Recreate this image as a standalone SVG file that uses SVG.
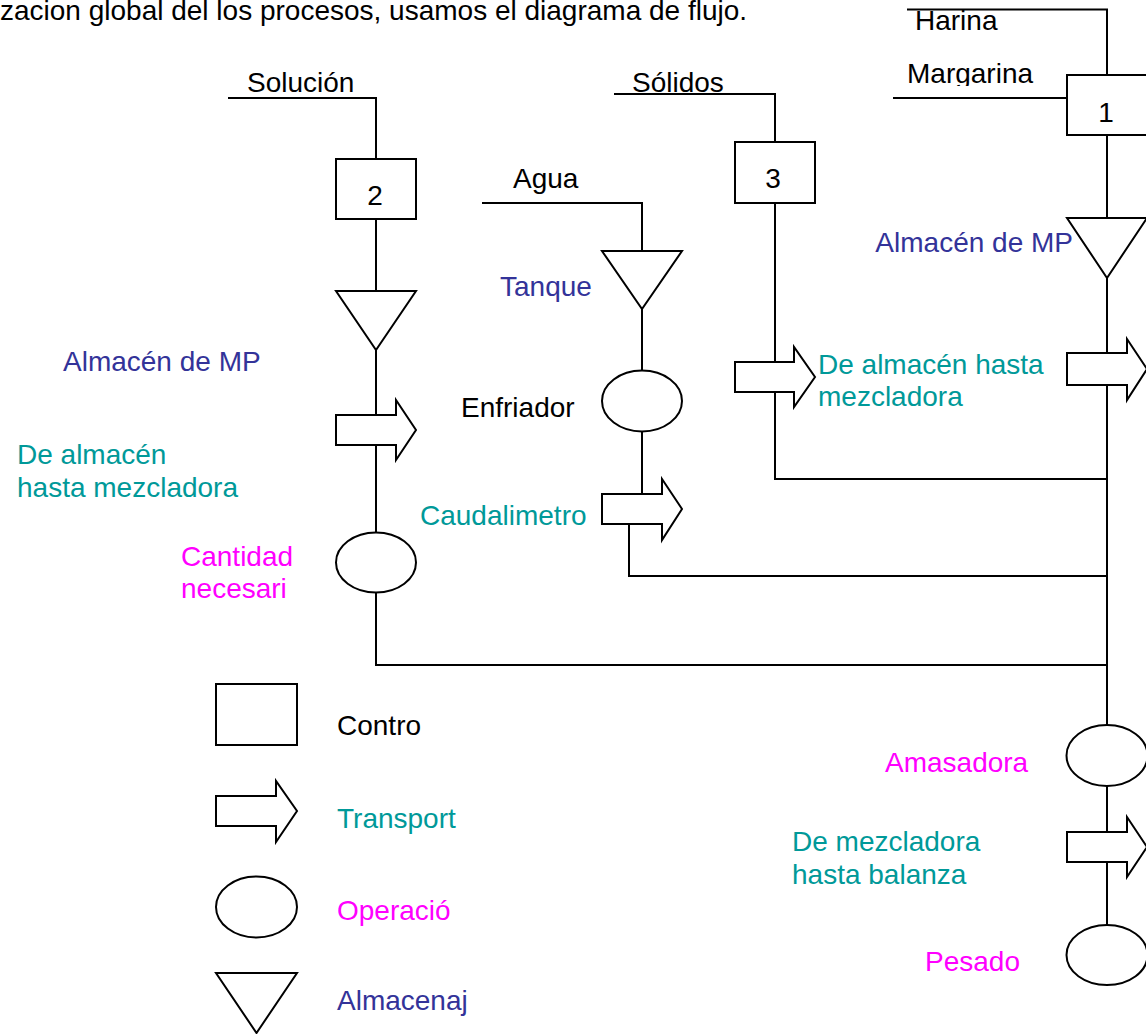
<svg xmlns="http://www.w3.org/2000/svg" width="1146" height="1034" viewBox="0 0 1146 1034">
<style>
text{font-family:"Liberation Sans",Arial,sans-serif;font-size:28px;fill:#000}
.shape{fill:#fff;stroke:#000;stroke-width:2}
.conn{fill:none;stroke:#000;stroke-width:2}
.teal{fill:#009999}
.mag{fill:#ff00ff}
.blue{fill:#333399}
</style>
<defs>
<clipPath id="clipMarg"><rect x="880" y="40" width="200" height="46"/></clipPath>
</defs>
<rect width="1146" height="1034" fill="#fff"/>
<text x="0" y="20">zacion global del los procesos, usamos el diagrama de flujo.</text>
<g id="connectors">
<path class="conn" d="M907,9.5 H1107 V75"/>
<path class="conn" d="M893,98 H1067"/>
<path class="conn" d="M1107,135 V925"/>
<path class="conn" d="M228,98 H376 V159 M376,219 V291 M376,350 V415 M376,445 V533 M376,592 V665 H1107"/>
<path class="conn" d="M614,94 H775 V142 M775,203 V362 M775,392 V479 H1107"/>
<path class="conn" d="M482,203 H642 V251 M642,309 V371 M642,432 V494 M629,524 V576 H1107"/>
</g>
<g id="in-harina"><text x="915" y="30">Harina</text></g>
<g id="in-margarina"><text x="907" y="83" clip-path="url(#clipMarg)">Margarina</text></g>
<g id="in-solucion"><text x="247" y="92">Solución</text></g>
<g id="in-solidos"><text x="632" y="92">Sólidos</text></g>
<g id="in-agua"><text x="513" y="188">Agua</text></g>
<g id="control1"><rect class="shape" x="1067" y="75" width="80" height="60"/><text x="1106" y="122" text-anchor="middle">1</text></g>
<g id="control2"><rect class="shape" x="336" y="159" width="80" height="60"/><text x="375" y="205" text-anchor="middle">2</text></g>
<g id="control3"><rect class="shape" x="735" y="142" width="80" height="61"/><text x="773" y="188" text-anchor="middle">3</text></g>
<g id="almacen-right"><polygon class="shape" points="1067,218 1147,218 1107,278"/><text class="blue" x="1073" y="252" text-anchor="end">Almacén de MP</text></g>
<g id="almacen-left"><polygon class="shape" points="336,291 416,291 376,350"/><text class="blue" x="63" y="371">Almacén de MP</text></g>
<g id="tanque"><polygon class="shape" points="602,251 682,251 642,309"/><text class="blue" x="500" y="296">Tanque</text></g>
<g id="enfriador"><ellipse class="shape" cx="642" cy="401" rx="40" ry="30.5"/><text x="461" y="417">Enfriador</text></g>
<g id="transporte-right"><polygon class="shape" points="1067,353 1127,353 1127,339 1147,369 1127,400 1127,385 1067,385"/></g>
<g id="transporte-mid"><polygon class="shape" points="735,362 794,362 794,347 815,377 794,407 794,392 735,392"/><text class="teal" x="818" y="374">De almacén hasta</text><text class="teal" x="818" y="406">mezcladora</text></g>
<g id="transporte-left"><polygon class="shape" points="336,415 396,415 396,400 416,430 396,460 396,445 336,445"/><text class="teal" x="17" y="464">De almacén</text><text class="teal" x="17" y="497">hasta mezcladora</text></g>
<g id="caudalimetro"><polygon class="shape" points="602,494 662,494 662,479 682,509 662,540 662,524 602,524"/><text class="teal" x="420" y="525">Caudalimetro</text></g>
<g id="cantidad"><ellipse class="shape" cx="376" cy="562.5" rx="40" ry="30"/><text class="mag" x="181" y="566">Cantidad</text><text class="mag" x="181" y="598">necesari</text></g>
<g id="amasadora"><ellipse class="shape" cx="1107" cy="755.5" rx="40.5" ry="30.5"/><text class="mag" x="885" y="772">Amasadora</text></g>
<g id="transporte-balanza"><polygon class="shape" points="1067,832 1127,832 1127,817 1147,847 1127,877 1127,862 1067,862"/><text class="teal" x="792" y="851">De mezcladora</text><text class="teal" x="792" y="884">hasta balanza</text></g>
<g id="pesado"><ellipse class="shape" cx="1107" cy="955" rx="40.5" ry="30"/><text class="mag" x="925" y="971">Pesado</text></g>
<g id="legend-control"><rect class="shape" x="216" y="684" width="81" height="61"/><text x="337" y="735">Contro</text></g>
<g id="legend-transport"><polygon class="shape" points="216,796 276,796 276,781 297,811 276,842 276,826 216,826"/><text class="teal" x="337" y="828">Transport</text></g>
<g id="legend-operacion"><ellipse class="shape" cx="256.5" cy="907" rx="40.5" ry="30.5"/><text class="mag" x="337" y="920">Operació</text></g>
<g id="legend-almacenaje"><polygon class="shape" points="216,973 297,973 256.5,1033"/><text class="blue" x="337" y="1010">Almacenaj</text></g>
</svg>
